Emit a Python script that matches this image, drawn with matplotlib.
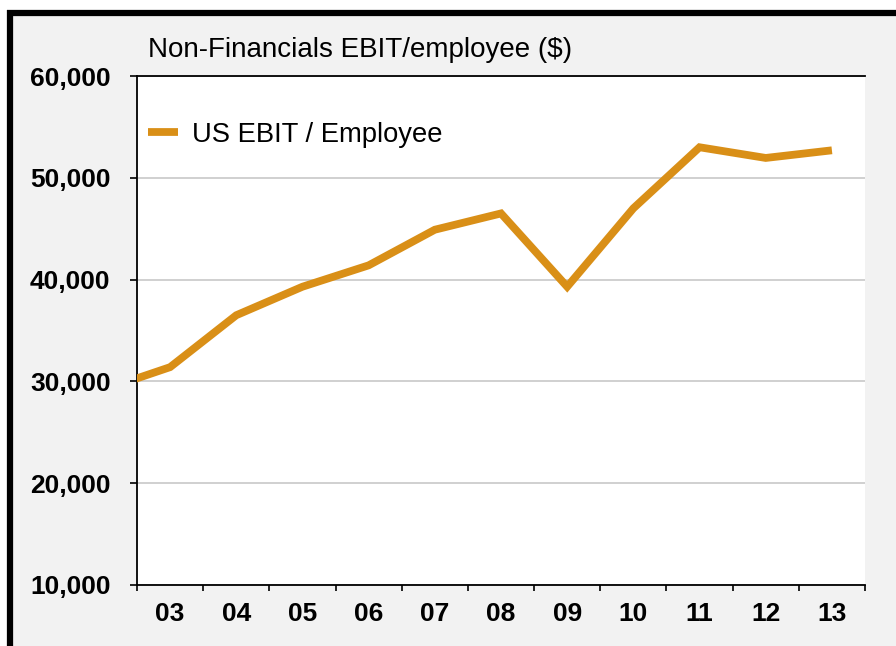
import matplotlib.pyplot as plt
from matplotlib.lines import Line2D
from matplotlib.patches import Rectangle
import numpy as np

plt.rcParams['font.family'] = ['Liberation Sans', 'DejaVu Sans']

# annual EBIT per employee, non-financial corporates (2002 sits just off the left edge)
years = ['02', '03', '04', '05', '06', '07', '08', '09', '10', '11', '12', '13']
ebit_per_employee = [29200, 31400, 36500, 39300, 41400, 44900, 46500, 39300, 47000, 53000, 51950, 52700]
tick_labels = years[1:]

W, H = 896, 646
fig = plt.figure(figsize=(W / 100, H / 100), dpi=100, facecolor='white')

# grey panel with a heavy black frame on the top and left
fig.add_artist(Rectangle((7 / W, 0), 1, (H - 10) / H, transform=fig.transFigure,
                         facecolor='#f2f2f2', edgecolor='none', zorder=-5))
fig.add_artist(Line2D([10 / W, 10 / W], [0, (H - 10) / H], color='black', lw=4.5,
                      solid_capstyle='butt', zorder=-4))
fig.add_artist(Line2D([7 / W, 1], [(H - 13) / H, (H - 13) / H], color='black', lw=4.5,
                      solid_capstyle='butt', zorder=-4))

ax = fig.add_axes([137 / W, (H - 585) / H, (865 - 137) / W, (585 - 76) / H])
ax.set_facecolor('white')

x = np.arange(len(years)) - 1
ax.plot(x, ebit_per_employee, color='#d98f17', lw=5.6, solid_joinstyle='miter',
        solid_capstyle='butt', label='US EBIT / Employee', zorder=3)

ax.set_xlim(-0.5, len(tick_labels) - 0.5)
ax.set_ylim(10000, 60000)

ax.set_yticks(np.arange(10000, 60001, 10000))
ax.set_yticklabels([f'{v:,}' for v in range(10000, 60001, 10000)])
ax.set_xticks(np.arange(len(tick_labels)))
ax.set_xticklabels(tick_labels)
ax.set_xticks(np.arange(len(tick_labels) + 1) - 0.5, minor=True)

ax.grid(axis='y', color='#c8c8c8', lw=1.2)
ax.set_axisbelow(True)

ax.spines['right'].set_visible(False)
for side in ['left', 'bottom', 'top']:
    ax.spines[side].set_color('black')
    ax.spines[side].set_linewidth(1.3)

ax.tick_params(axis='y', length=5, width=1.2, pad=14, labelsize=19)
ax.tick_params(axis='x', which='major', length=0, pad=12, labelsize=19)
ax.tick_params(axis='x', which='minor', length=4, width=1.2)
for lbl in ax.get_xticklabels() + ax.get_yticklabels():
    lbl.set_fontweight('bold')

fig.text(148 / W, (H - 50) / H, 'Non-Financials EBIT/employee ($)', fontsize=20,
         ha='left', va='center')

ax.legend(loc='upper left', bbox_to_anchor=(0.0, 0.932), frameon=False, fontsize=19.7,
          handlelength=1.1, handletextpad=0.5, borderpad=0.2, borderaxespad=0.2)

fig.savefig('out.png', dpi=100, facecolor=fig.get_facecolor())
